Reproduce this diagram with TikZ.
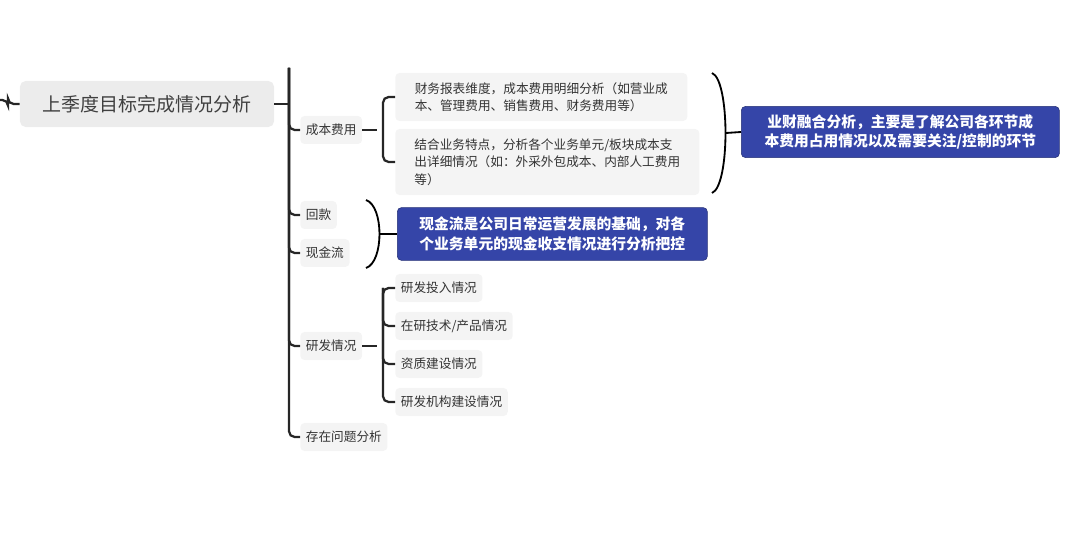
\documentclass[tikz,border=0pt]{standalone}
\usepackage{fontspec}
\setmainfont{Noto Sans CJK SC}
\usetikzlibrary{positioning}
\definecolor{boxgray}{HTML}{ECECEC}
\definecolor{noteblue}{HTML}{3545A8}

\tikzstyle{topic} = [
    rectangle,
    rounded corners=4pt,
    fill=boxgray,
    text=black!75,
    font=\fontsize{13.5}{16}\selectfont,
    minimum height=1.15cm,
    inner xsep=8pt,
]
\tikzstyle{sub} = [
    rectangle,
    rounded corners=3pt,
    fill=boxgray!60,
    text=black!80,
    font=\fontsize{9}{12.5}\selectfont,
    align=left,
    inner sep=4pt,
    minimum height=0.7cm,
]
\tikzstyle{note} = [
    rectangle,
    rounded corners=3pt,
    fill=noteblue,
    draw=noteblue!70!black,
    text=white,
    font=\bfseries\fontsize{10.5}{14}\selectfont,
    align=center,
    inner sep=4pt,
]
\tikzstyle{conn} = [
    line width=1.6pt,
    black!85,
    rounded corners=4pt,
]

\begin{document}
\begin{tikzpicture}[x=0.025cm,y=-0.025cm]
        \useasboundingbox (0,0) rectangle (1072,536);
        %% root and trunk
        \node (root) [topic, minimum width=6.35cm] at (147,104) {上季度目标完成情况分析};
        \coordinate (trunktop) at (289,68);
        \coordinate (trunkbot) at (289,437);
        \coordinate (lstub) at (0,100);
        \draw [conn] (lstub) -- ++(8,0) |- (root.west);
        \draw [conn] (root.east) -- (root.east -| trunktop);
        %% first level
        \node (cost) [sub, anchor=west] at (300,130) {成本费用};
        \node (repay) [sub, anchor=west] at (300,215) {回款};
        \node (cash) [sub, anchor=west] at (300,253) {现金流};
        \node (rnd) [sub, anchor=west] at (300,346) {研发情况};
        \node (issue) [sub, anchor=west] at (300,437) {存在问题分析};
        \draw [conn] (trunktop) -- (trunkbot |- issue.west) -- (issue.west);
        \draw [conn] (trunktop) |- (cost.west);
        \draw [conn] (trunktop) |- (repay.west);
        \draw [conn] (trunktop) |- (cash.west);
        \draw [conn] (trunktop) |- (rnd.west);
        %% cost details
        \node (cost1) [sub, anchor=west, minimum width=7.3cm, minimum height=1.2cm] at (395,97) {财务报表维度，成本费用明细分析（如营业成\\本、管理费用、销售费用、财务费用等）};
        \node (cost2) [sub, anchor=west, minimum width=7.6cm, minimum height=1.65cm] at (395,162) {结合业务特点，分析各个业务单元/板块成本支\\出详细情况（如：外采外包成本、内部人工费用\\等）};
        \draw [conn] (cost.east) -- ++(15,0) coordinate (costb);
        \draw [conn] (cost1.west) -- ++(-12,0) |- (cost2.west);
        \draw [conn] (costb) -- ++(0,0);
        %% brace and note for cost
        \coordinate (br1a) at (712,73);
        \coordinate (br1b) at (712,193);
        \draw [line width=1.3pt] (br1a) .. controls (730,80) and (730,186) .. (br1b);
        \node (note1) [note, anchor=west, minimum width=7.95cm, minimum height=1.28cm] at (741,132) {业财融合分析，主要是了解公司各环节成\\本费用占用情况以及需要关注/控制的环节};
        \draw [line width=1.3pt] (726,133) -- (note1.west);
        %% brace and note for cash
        \coordinate (br2a) at (366,200);
        \coordinate (br2b) at (366,268);
        \draw [line width=1.3pt] (br2a) .. controls (384,206) and (384,262) .. (br2b);
        \node (note2) [note, anchor=west, minimum width=7.75cm, minimum height=1.32cm] at (397,234) {现金流是公司日常运营发展的基础，对各\\个业务单元的现金收支情况进行分析把控};
        \draw [line width=1.3pt] (380,234) -- (note2.west);
        %% research details
        \node (rnd1) [sub, anchor=west] at (395,288) {研发投入情况};
        \node (rnd2) [sub, anchor=west] at (395,326) {在研技术/产品情况};
        \node (rnd3) [sub, anchor=west] at (395,364) {资质建设情况};
        \node (rnd4) [sub, anchor=west] at (395,402) {研发机构建设情况};
        \draw [conn] (rnd.east) -- ++(15,0);
        \draw [conn] (rnd1.west) -- ++(-12,0) |- (rnd4.west);
        \draw [conn] (rnd1.west) ++(-12,0) |- (rnd2.west);
        \draw [conn] (rnd1.west) ++(-12,0) |- (rnd3.west);
    \end{tikzpicture}
\end{document}
